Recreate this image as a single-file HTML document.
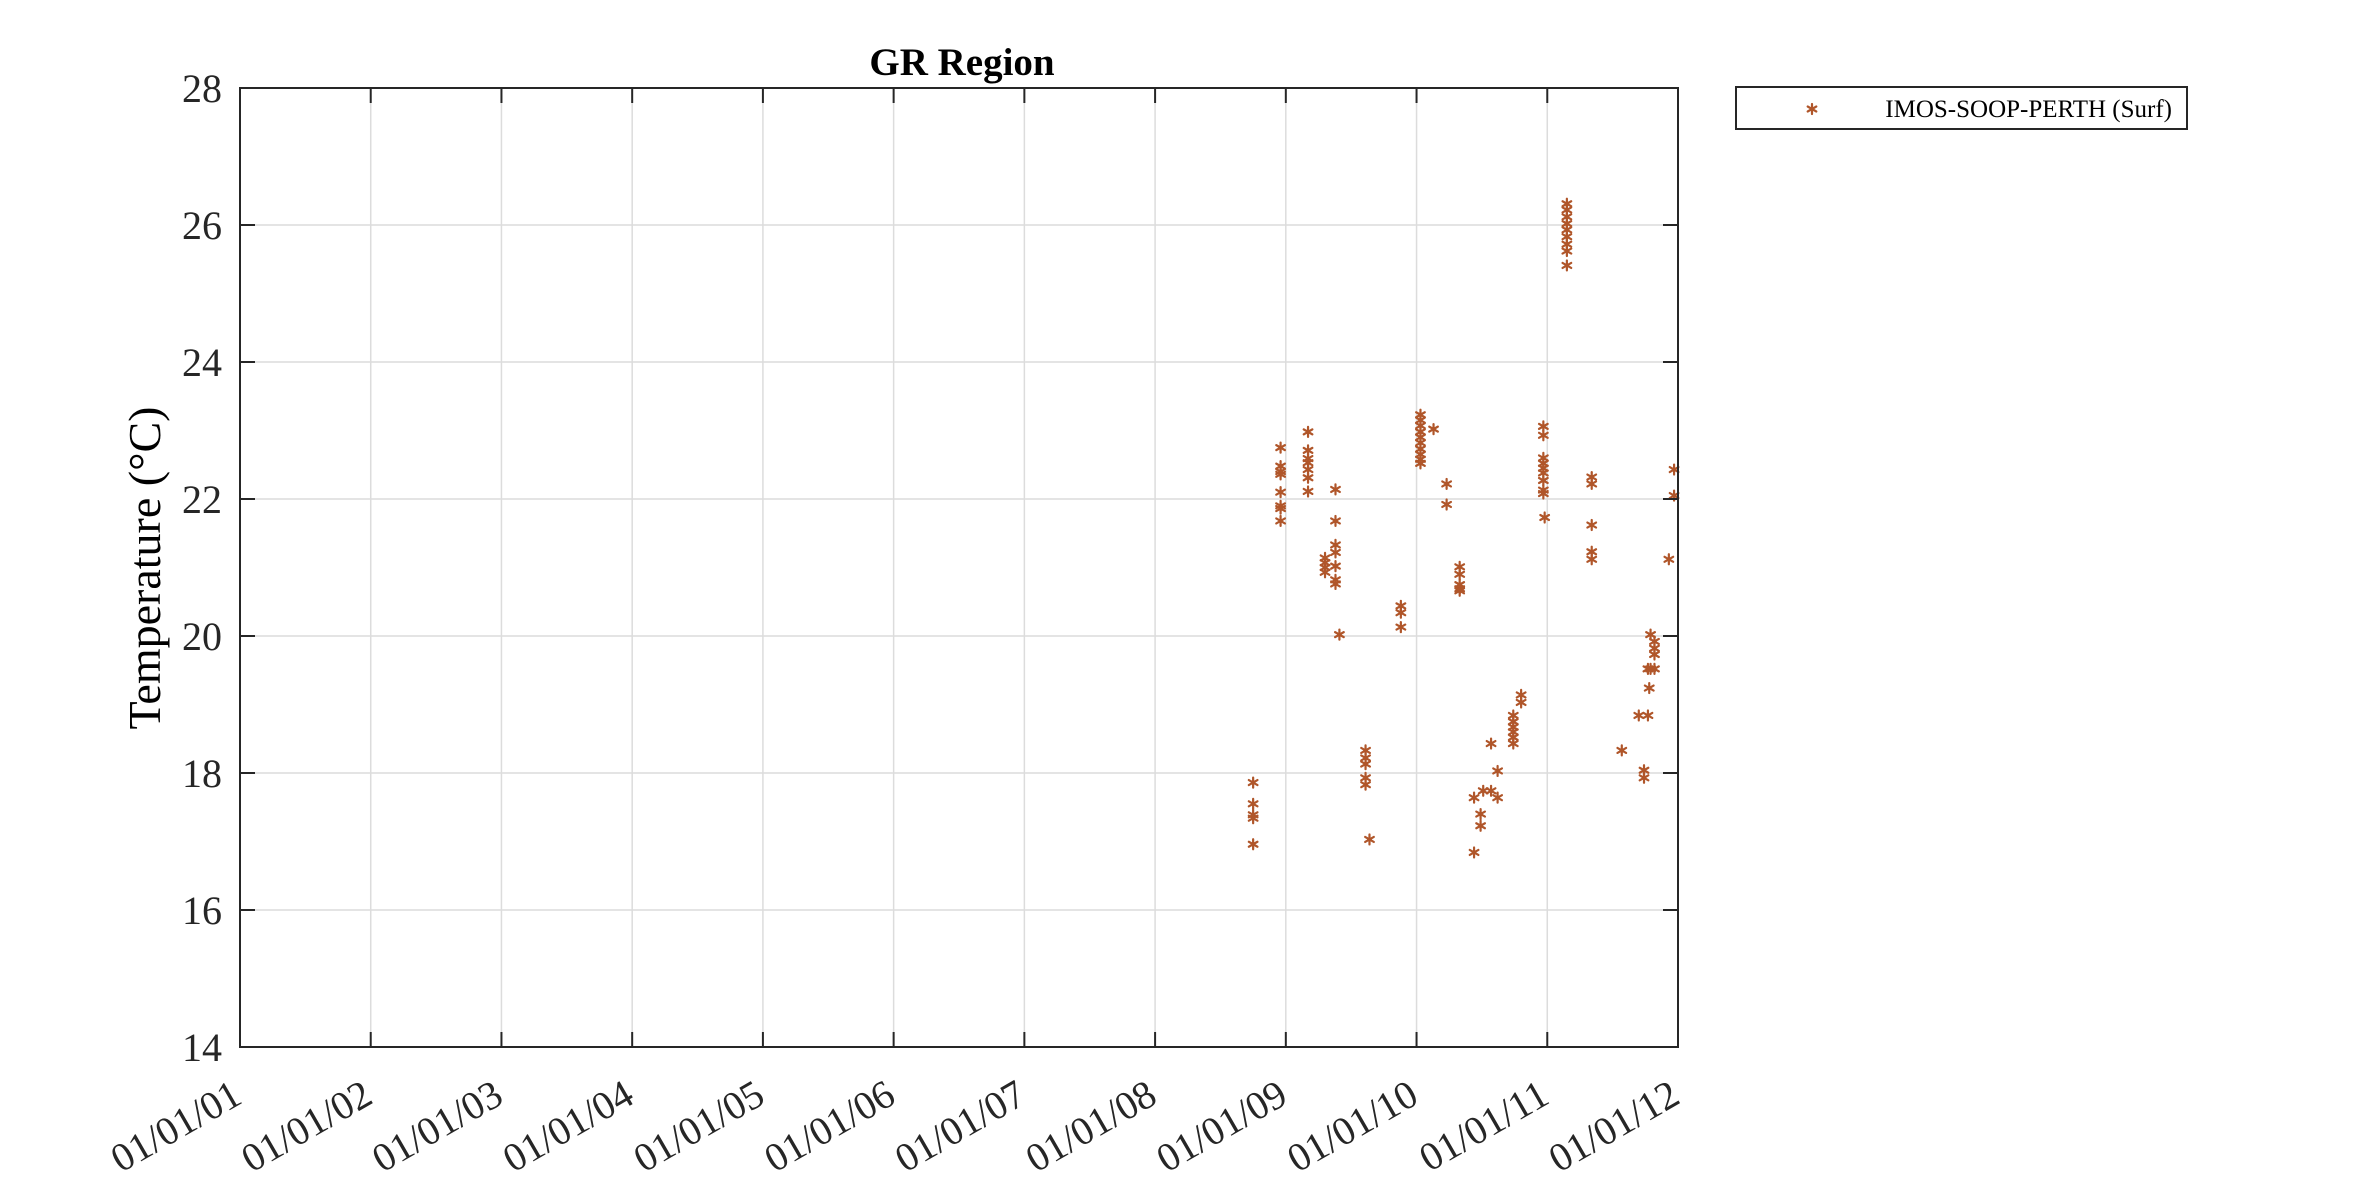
<!DOCTYPE html>
<html><head><meta charset="utf-8"><style>
html,body{margin:0;padding:0;background:#fff;}
svg{display:block;font-family:"Liberation Serif",serif;}
</style></head><body>
<svg id="chart" width="2362" height="1181" viewBox="0 0 2362 1181">
<rect x="0" y="0" width="2362" height="1181" fill="#fff"/>
<g id="grid"></g>
<g id="marks"></g>
<rect x="240" y="88" width="1438" height="959" fill="none" stroke="#262626" stroke-width="2"/>
<g id="axes"></g>
<text x="962" y="75" text-anchor="middle" font-size="39" font-weight="bold" fill="#000">GR Region</text>
<text transform="translate(160,568) rotate(-90)" text-anchor="middle" font-size="46" fill="#000">Temperature (°C)</text>
<g>
<rect x="1736" y="87" width="451" height="42" fill="#fff" stroke="#262626" stroke-width="2"/>
<g id="legmark"></g>
<text x="2172" y="117" text-anchor="end" font-size="25" fill="#000">IMOS-SOOP-PERTH (Surf)</text>
</g>
</svg>
<script>
const yTicks = [14,16,18,20,22,24,26,28];
const xTicks = [2001,2002,2003,2004,2005,2006,2007,2008,2009,2010,2011,2012];
const xTickLabels = ["01/01/01","01/01/02","01/01/03","01/01/04","01/01/05","01/01/06","01/01/07","01/01/08","01/01/09","01/01/10","01/01/11","01/01/12"];
const times = [
2008.75,2008.75,2008.75,2008.75,2008.75,
2008.96,2008.96,2008.96,2008.96,2008.96,2008.96,2008.96,2008.96,
2009.17,2009.17,2009.17,2009.17,2009.17,2009.17,2009.17,
2009.30,2009.30,2009.30,2009.30,
2009.38,2009.38,2009.38,2009.38,2009.38,2009.38,2009.38,
2009.41,
2009.61,2009.61,2009.61,2009.61,2009.61,
2009.64,
2009.88,2009.88,2009.88,
2010.03,2010.03,2010.03,2010.03,2010.03,2010.03,2010.03,2010.03,2010.03,2010.03,
2010.13,
2010.23,2010.23,
2010.33,2010.33,2010.33,2010.33,2010.33,
2010.44,2010.44,
2010.49,2010.49,
2010.51,2010.57,2010.57,
2010.62,2010.62,
2010.74,2010.74,2010.74,2010.74,2010.74,2010.74,
2010.80,2010.80,
2010.97,2010.97,2010.97,2010.97,2010.97,2010.97,2010.97,2010.97,2010.97,2010.98,
2011.15,2011.15,2011.15,2011.15,2011.15,2011.15,2011.15,2011.15,2011.15,
2011.34,2011.34,2011.34,2011.34,2011.34,
2011.57,
2011.70,2011.77,
2011.74,2011.74,
2011.77,2011.78,
2011.79,2011.79,
2011.82,2011.82,2011.82,2011.82,
2011.93,
2011.97,2011.97
];
const temps = [
17.86,17.55,17.39,17.34,16.96,
22.75,22.48,22.40,22.36,22.10,21.90,21.86,21.68,
22.98,22.71,22.59,22.53,22.43,22.31,22.11,
21.14,21.07,21.00,20.93,
22.14,21.68,21.33,21.22,21.02,20.82,20.76,
20.02,
18.33,18.22,18.13,17.93,17.83,
17.03,
20.44,20.34,20.13,
23.23,23.15,23.07,22.98,22.90,22.82,22.73,22.65,22.58,22.52,
23.02,
22.22,21.92,
21.01,20.90,20.75,20.69,20.66,
17.64,16.84,
17.40,17.23,
17.74,17.74,18.43,
18.03,17.64,
18.84,18.75,18.67,18.60,18.52,18.43,
19.14,19.03,
23.06,22.93,22.60,22.52,22.45,22.38,22.27,22.13,22.08,21.73,
26.31,26.22,26.12,26.02,25.93,25.83,25.72,25.62,25.41,
22.32,22.22,21.62,21.23,21.12,
18.33,
18.84,18.84,
18.04,17.93,
19.52,19.24,
20.02,19.52,
19.92,19.82,19.73,19.52,
21.12,
22.43,22.05
];
const X0=240,X1=1678,Y0=1047,Y1=88;
function xs(t){return X0+(t-2001)/(2012-2001)*(X1-X0);}
function ys(v){return Y0-(v-14)/(28-14)*(Y0-Y1);}
const NS="http://www.w3.org/2000/svg";
function mk(tag,attrs,parent){const e=document.createElementNS(NS,tag);for(const k in attrs)e.setAttribute(k,attrs[k]);parent.appendChild(e);return e;}
const grid=document.getElementById('grid'),axes=document.getElementById('axes'),marks=document.getElementById('marks');
yTicks.forEach((v,i)=>{
  const y=ys(v);
  const g=mk('line',{x1:X0,x2:X1,y1:y,y2:y,stroke:'#dcdcdc','stroke-width':1.5},grid);
  
  
  const t1=mk('line',{x1:X0,x2:X0+15,y1:y,y2:y,stroke:'#262626','stroke-width':2},axes);
  
  
  const t2=mk('line',{x1:X1-15,x2:X1,y1:y,y2:y,stroke:'#262626','stroke-width':2},axes);
  
  
  const l=mk('text',{x:222,y:y+14,'text-anchor':'end','font-size':40,fill:'#262626'},axes);
  l.textContent=String(v);
  
  
});
xTicks.forEach((t,i)=>{
  const x=xs(t);
  const g=mk('line',{x1:x,x2:x,y1:Y1,y2:Y0,stroke:'#dcdcdc','stroke-width':1.5},grid);
  
  
  const t1=mk('line',{x1:x,x2:x,y1:Y0-15,y2:Y0,stroke:'#262626','stroke-width':2},axes);
  
  
  const t2=mk('line',{x1:x,x2:x,y1:Y1,y2:Y1+15,stroke:'#262626','stroke-width':2},axes);
  
  
  const l=mk('text',{transform:`translate(${x+4},${1102}) rotate(-30)`,'text-anchor':'end','font-size':40,fill:'#262626'},axes);
  l.textContent=xTickLabels[i];
  
  
});
function star(cx,cy,parent,name){
  const g=mk('g',{stroke:'#b0562a','stroke-width':2.2,'stroke-linecap':'round'},parent);
  
  
  const r=5;
  [90,30,-30].forEach(a=>{const rad=a*Math.PI/180;const dx=r*Math.cos(rad),dy=r*Math.sin(rad);
    mk('line',{x1:cx-dx,y1:cy-dy,x2:cx+dx,y2:cy+dy},g);});
  mk('circle',{cx:cx,cy:cy,r:2.2,fill:'#b0562a',stroke:'none'},g);
}
times.forEach((t,i)=>{star(xs(t),ys(temps[i]),marks,'data-point');});
star(1812,109,document.getElementById('legmark'),'legend-marker-star');
</script>
</body></html>
